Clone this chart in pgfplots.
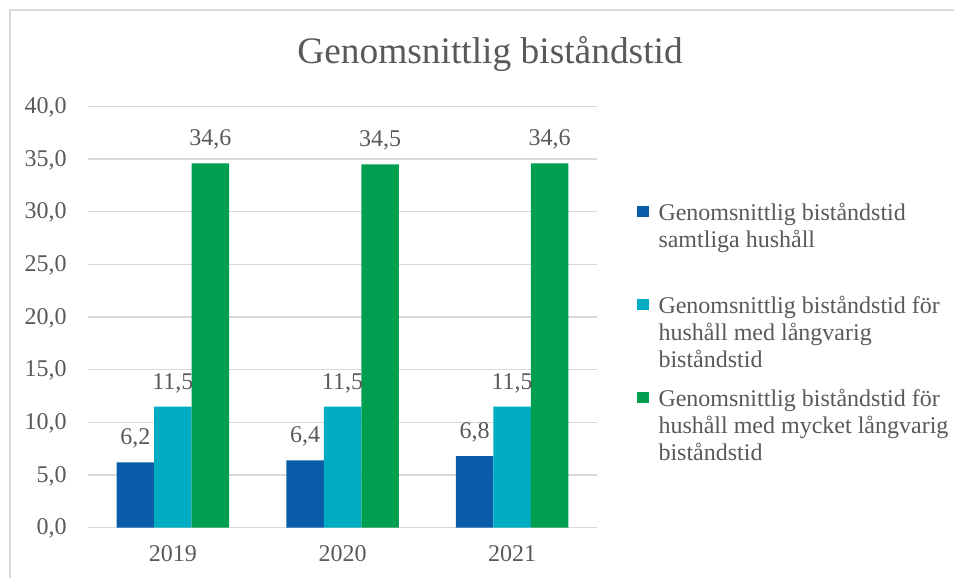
\documentclass[border=0pt]{standalone}
\usepackage{pgfplots}
\pgfplotsset{compat=1.18}
\usepackage{fontspec}
\setmainfont{Liberation Serif}
\definecolor{cBlue}{HTML}{0B5CA8}
\definecolor{cCyan}{HTML}{00ACC1}
\definecolor{cGreen}{HTML}{009E4F}
\definecolor{cText}{HTML}{595959}
\definecolor{cGrid}{HTML}{D9D9D9}
\begin{document}
\begin{tikzpicture}[x=1pt,y=1pt]
\useasboundingbox (0,0) rectangle (477,-289);
\draw[cGrid, line width=1pt] (4.75,-290) -- (4.75,-5) -- (478,-5);
\node[font=\fontsize{18.7}{22}\selectfont, text=cText, anchor=base] at (245,-31.5) {Genomsnittlig biståndstid};
\begin{axis}[
  at={(44pt,-263.85pt)}, anchor=south west,
  scale only axis, width=254.5pt, height=210.65pt,
  xmin=-0.5, xmax=2.5, ymin=0, ymax=40,
  xtick={0,1,2}, xticklabels={2019,2020,2021},
  ytick={0,5,10,15,20,25,30,35,40},
  yticklabels={{0,0},{5,0},{10,0},{15,0},{20,0},{25,0},{30,0},{35,0},{40,0}},
  ymajorgrids, major grid style={cGrid, line width=0.75pt},
  axis line style={draw=none}, major tick length=0pt,
  tick label style={font=\fontsize{12}{13.5}\selectfont, text=cText},
  xticklabel style={anchor=base, yshift=-17pt, inner sep=0pt},
  yticklabel style={anchor=base east, inner sep=0pt, xshift=-10.5pt, yshift=-3.5pt},
  ybar=0pt, bar width=18.75pt,
  clip=false,
  nodes near coords,
  nodes near coords style={font=\fontsize{12}{13.5}\selectfont, text=cText, anchor=base, yshift=8.75pt, inner sep=0pt,
    /pgf/number format/.cd, fixed, fixed zerofill, precision=1, use comma, assume math mode=true},
  legend style={at={(1.0786,0.7836)}, anchor=north west, draw=none, fill=none, inner sep=0pt, outer sep=0pt,
    row sep=31.5pt, column sep=3pt, cells={anchor=base west}, font=\fontsize{12}{13.5}\selectfont, text=cText},
  legend image code/.code={\fill[#1] (0pt,1.5pt) rectangle (5.75pt,7.25pt);},
]
\addplot[fill=cBlue, draw=none] coordinates {(0,6.2) (1,6.4) (2,6.8)};
\addlegendentry{\begin{tabular}[t]{@{}l@{}}Genomsnittlig biståndstid\\samtliga hushåll\\\mbox{}\end{tabular}}
\addplot[fill=cCyan, draw=none] coordinates {(0,11.5) (1,11.5) (2,11.5)};
\addlegendentry{\begin{tabular}[t]{@{}l@{}}Genomsnittlig biståndstid för\\hushåll med långvarig\\biståndstid\end{tabular}}
\addplot[fill=cGreen, draw=none] coordinates {(0,34.6) (1,34.5) (2,34.6)};
\addlegendentry{\begin{tabular}[t]{@{}l@{}}Genomsnittlig biståndstid för\\hushåll med mycket långvarig\\biståndstid\end{tabular}}
\end{axis}
\end{tikzpicture}
\end{document}
